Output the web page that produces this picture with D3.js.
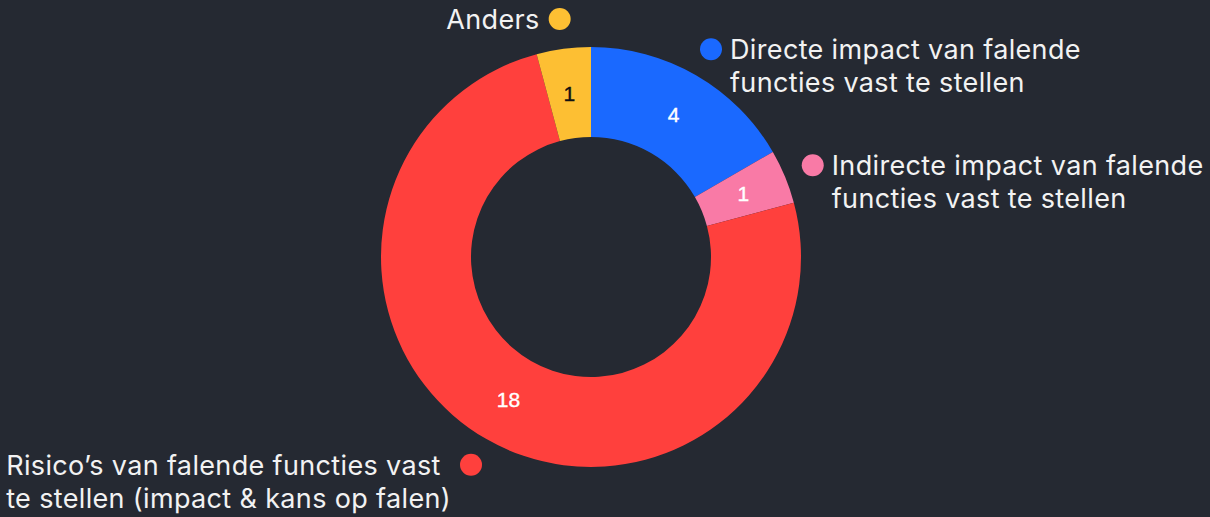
<!DOCTYPE html>
<html>
<head>
<meta charset="utf-8">
<script src="https://cdn.jsdelivr.net/npm/d3@7"></script>
<style>
  html, body { margin: 0; padding: 0; background: #252932; }
  svg { display: block; }
</style>
</head>
<body>
<svg id="chart" width="1210" height="517"></svg>
<script>
// Categories in clockwise order starting at 12 o'clock
const categories = [
  "Directe impact van falende functies vast te stellen",
  "Indirecte impact van falende functies vast te stellen",
  "Risico’s van falende functies vast te stellen (impact & kans op falen)",
  "Anders"
];
// Wrapped label lines for each category
const labelLines = [
  ["Directe impact van falende", "functies vast te stellen"],
  ["Indirecte impact van falende", "functies vast te stellen"],
  ["Risico’s van falende functies vast", "te stellen (impact & kans op falen)"],
  ["Anders"]
];
const values = [4, 1, 18, 1];
const colors = ["#1a69ff", "#f97aa6", "#ff403d", "#fdbf33"];
const valueTextColors = ["#ffffff", "#ffffff", "#ffffff", "#111111"];

const W = 1210, H = 517;
const cx = 591, cy = 257;
const outerR = 210, innerR = 120, labelR = 240;

const svg = d3.select("#chart");
const g = svg.append("g").attr("transform", `translate(${cx},${cy})`);

const data = categories.map((c, i) => ({ name: c, value: values[i], i }));

const pie = d3.pie().value(d => d.value).sort(null);
const arcs = pie(data);
const arc = d3.arc().innerRadius(innerR).outerRadius(outerR);

g.selectAll("path.slice")
  .data(arcs)
  .join("path")
  .attr("class", "slice")
  .attr("d", arc)
  .attr("fill", d => colors[d.data.i]);

// Value labels at slice centroids
g.selectAll("text.value")
  .data(arcs)
  .join("text")
  .attr("class", "value")
  .attr("transform", d => `translate(${arc.centroid(d)})`)
  .attr("text-anchor", "middle")
  .attr("dominant-baseline", "central")
  .attr("font-family", "Liberation Sans, Arial, sans-serif")
  .attr("font-size", 21)
  .attr("fill", d => valueTextColors[d.data.i])
  .attr("stroke", d => valueTextColors[d.data.i])
  .attr("stroke-width", 0.4)
  .text(d => d.data.value);

// Outer labels: dot on the slice's mid-angle, text beside it
const lineH = 33;
const fontSize = 27;
arcs.forEach(d => {
  const mid = (d.startAngle + d.endAngle) / 2;
  const x = labelR * Math.sin(mid);
  const y = -labelR * Math.cos(mid);
  const right = Math.sin(mid) >= 0;
  const lg = g.append("g").attr("transform", `translate(${x},${y})`);
  lg.append("circle").attr("r", 11).attr("fill", colors[d.data.i]);

  const t = lg.append("text")
    .attr("font-family", "Inter, 'Noto Sans', sans-serif")
    .attr("font-size", fontSize)
    .attr("letter-spacing", 0.35)
    .attr("fill", "#f2f2f2")
    .attr("dominant-baseline", "central");
  const lines = labelLines[d.data.i];
  lines.forEach((ln, k) => {
    t.append("tspan").attr("x", 0).attr("y", k * lineH).text(ln);
  });
  const bw = t.node().getBBox().width;
  t.attr("transform", `translate(${right ? 19 : -20 - bw},0)`);
});
</script>
</body>
</html>
